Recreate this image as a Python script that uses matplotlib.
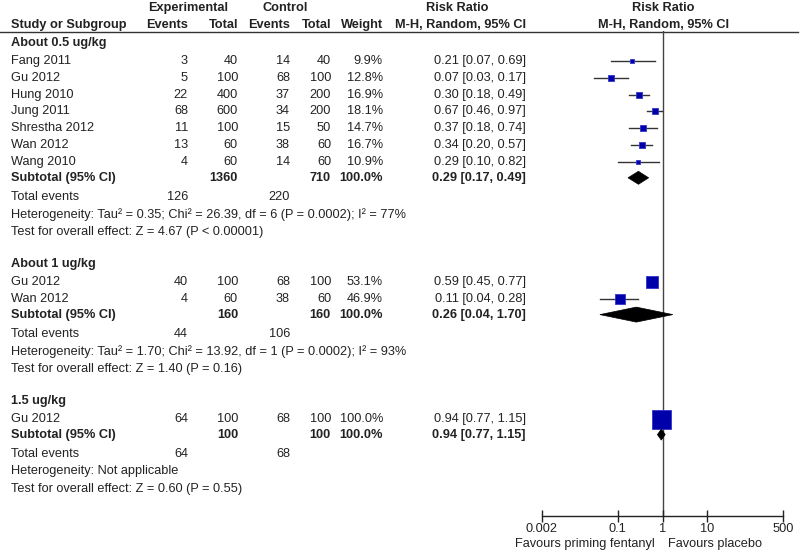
import matplotlib
matplotlib.use("Agg")
import matplotlib.pyplot as plt
from matplotlib.patches import Polygon

plt.rcParams['font.family'] = ['Liberation Sans', 'DejaVu Sans']

TXT = '#222222'
BLUE = '#0000AA'

# ---------------- data ----------------
group_names = ["About 0.5 ug/kg", "About 1 ug/kg", "1.5 ug/kg"]

g1_studies = ["Fang 2011", "Gu 2012", "Hung 2010", "Jung 2011", "Shrestha 2012", "Wan 2012", "Wang 2010"]
g1_exp_events = [3, 5, 22, 68, 11, 13, 4]
g1_exp_total = [40, 100, 400, 600, 100, 60, 60]
g1_ctl_events = [14, 68, 37, 34, 15, 38, 14]
g1_ctl_total = [40, 100, 200, 200, 50, 60, 60]
g1_weight = [9.9, 12.8, 16.9, 18.1, 14.7, 16.7, 10.9]
g1_rr = [0.21, 0.07, 0.30, 0.67, 0.37, 0.34, 0.29]
g1_lo = [0.07, 0.03, 0.18, 0.46, 0.18, 0.20, 0.10]
g1_hi = [0.69, 0.17, 0.49, 0.97, 0.74, 0.57, 0.82]

g2_studies = ["Gu 2012", "Wan 2012"]
g2_exp_events = [40, 4]
g2_exp_total = [100, 60]
g2_ctl_events = [68, 38]
g2_ctl_total = [100, 60]
g2_weight = [53.1, 46.9]
g2_rr = [0.59, 0.11]
g2_lo = [0.45, 0.04]
g2_hi = [0.77, 0.28]

g3_studies = ["Gu 2012"]
g3_exp_events = [64]
g3_exp_total = [100]
g3_ctl_events = [68]
g3_ctl_total = [100]
g3_weight = [100.0]
g3_rr = [0.94]
g3_lo = [0.77]
g3_hi = [1.15]

sub_exp_total = [1360, 160, 100]
sub_ctl_total = [710, 160, 100]
sub_rr = [0.29, 0.26, 0.94]
sub_lo = [0.17, 0.04, 0.77]
sub_hi = [0.49, 1.70, 1.15]
tot_exp_events = [126, 44, 64]
tot_ctl_events = [220, 106, 68]
heterogeneity = [
    "Heterogeneity: Tau\u00b2 = 0.35; Chi\u00b2 = 26.39, df = 6 (P = 0.0002); I\u00b2 = 77%",
    "Heterogeneity: Tau\u00b2 = 1.70; Chi\u00b2 = 13.92, df = 1 (P = 0.0002); I\u00b2 = 93%",
    "Heterogeneity: Not applicable",
]
overall = [
    "Test for overall effect: Z = 4.67 (P < 0.00001)",
    "Test for overall effect: Z = 1.40 (P = 0.16)",
    "Test for overall effect: Z = 0.60 (P = 0.55)",
]
axis_ticks = [0.002, 0.1, 1, 10, 500]
axis_ticklabels = ["0.002", "0.1", "1", "10", "500"]

groups = [
    (g1_studies, g1_exp_events, g1_exp_total, g1_ctl_events, g1_ctl_total, g1_weight, g1_rr, g1_lo, g1_hi),
    (g2_studies, g2_exp_events, g2_exp_total, g2_ctl_events, g2_ctl_total, g2_weight, g2_rr, g2_lo, g2_hi),
    (g3_studies, g3_exp_events, g3_exp_total, g3_ctl_events, g3_ctl_total, g3_weight, g3_rr, g3_lo, g3_hi),
]

# ---------------- layout ----------------
W, H = 800, 555
fig = plt.figure(figsize=(W / 100, H / 100), dpi=100)
ax0 = fig.add_axes([0, 0, 1, 1])
ax0.set_xlim(0, W)
ax0.set_ylim(H, 0)
ax0.axis('off')

FS = 9.2

AX_L, AX_R = 541.7, 783.3
AX_TOP, AX_BOT = 31, 516
ax = fig.add_axes([AX_L / W, 1 - AX_BOT / H, (AX_R - AX_L) / W, (AX_BOT - AX_TOP) / H])
ax.set_xscale('log')
ax.set_xlim(0.002, 500)
ax.set_ylim(AX_BOT, AX_TOP)
ax.patch.set_alpha(0)
for s in ['top', 'right', 'left']:
    ax.spines[s].set_visible(False)
ax.spines['bottom'].set_color('#222222')
ax.spines['bottom'].set_linewidth(1.0)
ax.set_yticks([])
ax.set_xticks(axis_ticks)
ax.set_xticklabels(axis_ticklabels)
ax.minorticks_off()
ax.tick_params(axis='x', direction='inout', length=8, width=1.0, color='#222222',
               labelsize=FS, labelcolor=TXT, pad=1)
ax.axvline(1, color='#444444', lw=1.0, zorder=1)

X_NAME = 11
X_EE, X_ET, X_CE, X_CT, X_W, X_RR = 188, 238, 290, 331, 383, 526

def t(x, y, s, ha='left', bold=False, fs=FS):
    ax0.text(x, y, s, ha=ha, va='center', fontsize=fs, color=TXT,
             fontweight='bold' if bold else 'normal')

# headers
t(188, 8, "Experimental", ha='center', bold=True)
t(285, 8, "Control", ha='center', bold=True)
t(457, 8, "Risk Ratio", ha='center', bold=True)
t(663, 8, "Risk Ratio", ha='center', bold=True)
t(X_NAME, 25, "Study or Subgroup", bold=True)
t(X_EE, 25, "Events", ha='right', bold=True)
t(X_ET, 25, "Total", ha='right', bold=True)
t(X_CE, 25, "Events", ha='right', bold=True)
t(X_CT, 25, "Total", ha='right', bold=True)
t(X_W, 25, "Weight", ha='right', bold=True)
t(X_RR, 25, "M-H, Random, 95% CI", ha='right', bold=True)
t(664, 25, "M-H, Random, 95% CI", ha='center', bold=True)
ax0.plot([0, 798], [31.5, 31.5], color='#333333', lw=1.0)

y = 43
for gi, g in enumerate(groups):
    names, ee, et, ce, ct, wt, rr, lo, hi = g
    t(X_NAME, y, group_names[gi], bold=True)
    y += 18
    for i in range(len(names)):
        t(X_NAME, y, names[i])
        t(X_EE, y, str(ee[i]), ha='right')
        t(X_ET, y, str(et[i]), ha='right')
        t(X_CE, y, str(ce[i]), ha='right')
        t(X_CT, y, str(ct[i]), ha='right')
        t(X_W, y, f"{wt[i]:.1f}%", ha='right')
        t(X_RR, y, f"{rr[i]:.2f} [{lo[i]:.2f}, {hi[i]:.2f}]", ha='right')
        ax.plot([lo[i], hi[i]], [y, y], color='#333333', lw=1.0, zorder=2)
        side = 3.0 + 16.0 * wt[i] / 100.0
        ax.plot([rr[i]], [y], marker='s', ms=side * 0.72, color=BLUE,
                markeredgecolor='#3333cc', markeredgewidth=0.6, zorder=3)
        y += 16.8
    y -= 0.8
    t(X_NAME, y, "Subtotal (95% CI)", bold=True)
    t(X_ET, y, str(sub_exp_total[gi]), ha='right', bold=True)
    t(X_CT, y, str(sub_ctl_total[gi]), ha='right', bold=True)
    t(X_W, y, "100.0%", ha='right', bold=True)
    t(X_RR, y, f"{sub_rr[gi]:.2f} [{sub_lo[gi]:.2f}, {sub_hi[gi]:.2f}]", ha='right', bold=True)
    dh = [6.5, 7.5, 5.5][gi]
    poly = Polygon([(sub_lo[gi], y), (sub_rr[gi], y - dh), (sub_hi[gi], y), (sub_rr[gi], y + dh)],
                   closed=True, facecolor='black', edgecolor='black', lw=0.5, zorder=4)
    ax.add_patch(poly)
    y += 19
    t(X_NAME, y, "Total events")
    t(X_EE, y, str(tot_exp_events[gi]), ha='right')
    t(X_CE, y, str(tot_ctl_events[gi]), ha='right')
    y += 17.5
    t(X_NAME, y, heterogeneity[gi])
    y += 17.5
    t(X_NAME, y, overall[gi])
    y += 32

t(655, 544, "Favours priming fentanyl", ha='right')
t(668, 544, "Favours placebo", ha='left')

fig.savefig("out.png", dpi=100)
